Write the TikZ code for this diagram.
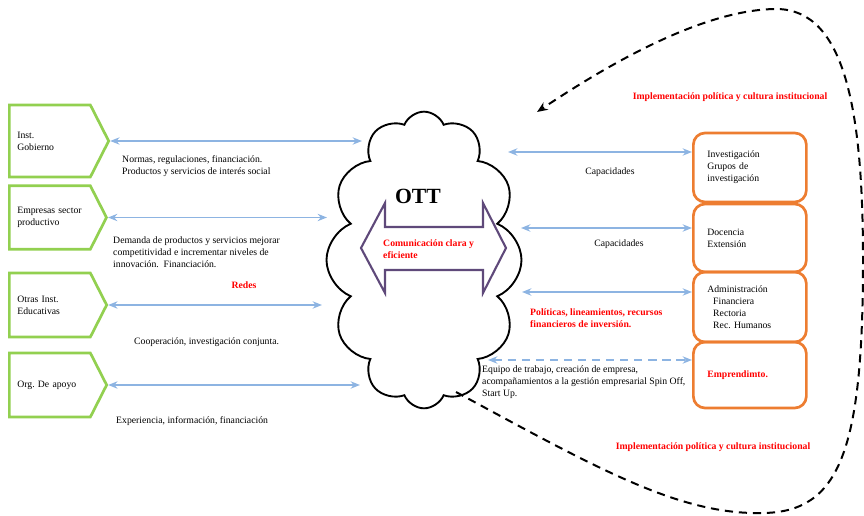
\documentclass[tikz,border=0pt]{standalone}
\usepackage{fontspec}
\setmainfont{Liberation Serif}
\usetikzlibrary{shapes.symbols,arrows.meta,positioning}
\definecolor{ggreen}{RGB}{146,208,80}
\definecolor{bblue}{RGB}{141,180,226}
\definecolor{oorange}{RGB}{237,125,49}
\definecolor{ppurple}{RGB}{95,73,122}
\newcommand{\smalltxt}{\fontsize{8.3}{10.2}\selectfont}
\tikzset{
  gbox/.style={signal, signal to=east, draw=ggreen, line width=2.3pt, signal pointer angle=126,
    text width=1.95cm, inner xsep=0.24cm, align=left, font=\smalltxt},
  obox/.style={draw=oorange, line width=2.3pt, rounded corners=0.35cm, minimum width=3.39cm,
    text width=2.55cm, inner xsep=0.42cm, align=left, font=\smalltxt},
  barrow/.style={bblue, line width=1.5pt, {Stealth[length=0.28cm,width=0.22cm]}-{Stealth[length=0.28cm,width=0.22cm]}},
  txt/.style={font=\smalltxt, align=left, inner sep=0pt},
  rtxt/.style={font=\smalltxt\bfseries, text=red, align=left, inner sep=0pt},
}
\begin{document}
\begin{tikzpicture}[x=0.03cm,y=-0.03cm]
\useasboundingbox (0,0) rectangle (864,516);
% cloud
\node[cloud, draw, line width=1.6pt, cloud puffs=12, cloud puff arc=135, aspect=0.66,
  minimum width=5.85cm, minimum height=8.9cm, inner sep=0pt] (ott) at (424,260) {};
\node[font=\fontsize{18.5}{22}\selectfont\bfseries] (ottlbl) at (418,196) {OTT};
\draw[ppurple, line width=1.8pt, fill=white] (361,248) -- (385,203) -- (385,227) -- (483,227)
  -- (483,203) -- (506,248) -- (483,293) -- (483,270) -- (385,270) -- (385,293) -- cycle;
\node[rtxt, anchor=west] (com) at (383,249) {Comunicación clara y\\eficiente};
% left side
\node[gbox, minimum height=2.16cm, anchor=west] (gob) at (8,141) {Inst.\\Gobierno};
\node[gbox, minimum height=1.9cm, anchor=west] (emp) at (8,217.5) {Empresas sector\\productivo};
\node[gbox, minimum height=1.92cm, anchor=west] (edu) at (8,305) {Otras Inst.\\Educativas};
\node[gbox, minimum height=1.92cm, anchor=west] (org) at (8,385) {Org.\ De apoyo};
\coordinate (l1) at (362,137);
\coordinate (l2) at (327,215);
\coordinate (l3) at (322,309);
\coordinate (l4) at (360,387);
\draw[barrow] (gob.east) -- (l1 |- gob.east);
\draw[barrow] (emp.east) -- (l2 |- emp.east);
\draw[barrow] (edu.east) -- (l3 |- edu.east);
\draw[barrow] (org.east) -- (l4 |- org.east);
\node[txt, anchor=west] (nor) at (122,166) {Normas, regulaciones, financiación.\\Productos y servicios de interés social};
\node[txt, anchor=west] (dem) at (113,252) {Demanda de productos y servicios mejorar\\competitividad e incrementar niveles de\\innovación.\ \ Financiación.};
\node[rtxt] (red) at (244,285) {Redes};
\node[txt, anchor=west] (coo) at (134,342) {Cooperación, investigación conjunta.};
\node[txt, anchor=west] (exp) at (116,421) {Experiencia, información, financiación};
% right side
\node[obox, minimum height=2.07cm, anchor=west] (inv) at (692,167.5) {Investigación\\Grupos de\\investigación};
\node[obox, minimum height=2.04cm, anchor=west] (doc) at (692,238) {Docencia\\Extensión};
\node[obox, minimum height=2.1cm, anchor=west] (adm) at (692,307) {Administración\\\hspace*{5pt}Financiera\\\hspace*{5pt}Rectoria\\\hspace*{5pt}Rec.\ Humanos};
\node[obox, minimum height=1.98cm, anchor=west, font=\smalltxt\bfseries, text=red] (emd) at (692,375) {Emprendimto.};
\coordinate (r1) at (508,152);
\coordinate (r2) at (521,228);
\coordinate (r3) at (522,292);
\coordinate (r4) at (488,360);
\draw[barrow] (r1) -- (r1 -| inv.west);
\draw[barrow] (r2) -- (r2 -| doc.west);
\draw[barrow] (r3) -- (r3 -| adm.west);
\draw[barrow, dash pattern=on 7pt off 5pt] (r4) -- (r4 -| emd.west);
\node[txt] (cap1) at (610,172) {Capacidades};
\node[txt] (cap2) at (619,244) {Capacidades};
\node[rtxt, anchor=west] (pol) at (530,318) {Políticas, lineamientos, recursos\\financieros de inversión.};
\node[txt, anchor=west] (equ) at (482,382) {Equipo de trabajo, creación de empresa,\\acompañamientos a la gestión empresarial Spin Off,\\Start Up.};
% loop
\coordinate (d0) at (456,392);
\coordinate (d1) at (537,112);
\draw[line width=1.7pt, dash pattern=on 7pt off 5pt, -{Stealth[length=0.32cm,width=0.26cm]}]
  (d0) .. controls (600,470) and (680,515) .. (763,513) .. controls (840,512) and (863,450) .. (863,260)
  .. controls (863,110) and (845,10) .. (777,9) .. controls (700,9) and (600,70) .. (d1);
\node[rtxt] (imp1) at (730,97) {Implementación política y cultura institucional};
\node[rtxt] (imp2) at (713,447) {Implementación política y cultura institucional};
\end{tikzpicture}
\end{document}
